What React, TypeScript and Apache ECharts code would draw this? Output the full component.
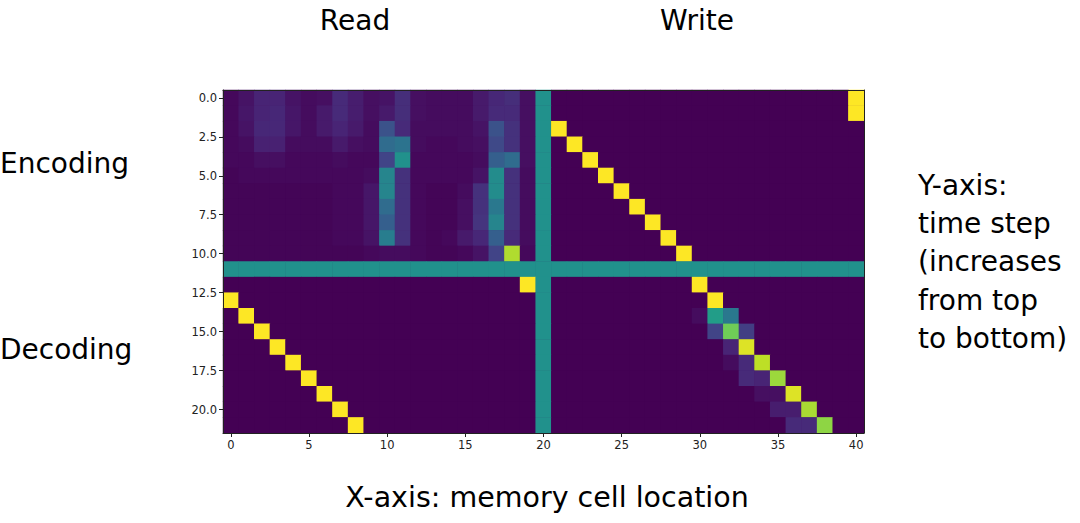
import React, { useEffect, useRef } from "react";
import * as echarts from "echarts";

// Column indices (memory cell location) and row indices (time step)
const xCategories: string[] = Array.from({ length: 41 }, (_, i) => String(i));
const yCategories: string[] = Array.from({ length: 22 }, (_, i) => String(i));

// Tick labels
const xTickValues = [0, 5, 10, 15, 20, 25, 30, 35, 40];
const yTickValues = [0, 2.5, 5, 7.5, 10, 12.5, 15, 17.5, 20];

// Read block: columns 0..19, rows 0..21
const readBlock: number[][] = [
  [0.02, 0.05, 0.10, 0.10, 0.05, 0.03, 0.04, 0.12, 0.08, 0.04, 0.05, 0.13, 0.04, 0.03, 0.03, 0.03, 0.07, 0.11, 0.13, 0.04],
  [0.02, 0.06, 0.10, 0.11, 0.06, 0.03, 0.07, 0.12, 0.08, 0.04, 0.07, 0.13, 0.04, 0.03, 0.03, 0.03, 0.07, 0.12, 0.12, 0.04],
  [0.02, 0.05, 0.11, 0.11, 0.06, 0.03, 0.07, 0.10, 0.07, 0.03, 0.25, 0.12, 0.03, 0.03, 0.03, 0.03, 0.05, 0.25, 0.14, 0.04],
  [0.02, 0.03, 0.09, 0.09, 0.03, 0.03, 0.03, 0.07, 0.04, 0.03, 0.35, 0.38, 0.03, 0.02, 0.02, 0.03, 0.04, 0.22, 0.14, 0.04],
  [0.02, 0.02, 0.04, 0.04, 0.02, 0.02, 0.02, 0.03, 0.02, 0.02, 0.20, 0.50, 0.02, 0.02, 0.02, 0.02, 0.03, 0.30, 0.35, 0.04],
  [0.01, 0.02, 0.02, 0.02, 0.02, 0.02, 0.02, 0.02, 0.02, 0.03, 0.45, 0.14, 0.02, 0.02, 0.02, 0.02, 0.05, 0.48, 0.14, 0.03],
  [0.01, 0.01, 0.01, 0.01, 0.01, 0.01, 0.01, 0.02, 0.02, 0.06, 0.45, 0.14, 0.02, 0.01, 0.01, 0.03, 0.14, 0.48, 0.14, 0.03],
  [0.01, 0.01, 0.01, 0.01, 0.01, 0.01, 0.01, 0.02, 0.02, 0.06, 0.35, 0.14, 0.02, 0.01, 0.01, 0.04, 0.14, 0.40, 0.14, 0.03],
  [0.01, 0.01, 0.01, 0.01, 0.01, 0.01, 0.01, 0.02, 0.02, 0.06, 0.30, 0.14, 0.02, 0.01, 0.01, 0.04, 0.15, 0.45, 0.14, 0.03],
  [0.01, 0.01, 0.01, 0.01, 0.01, 0.01, 0.01, 0.02, 0.02, 0.05, 0.42, 0.14, 0.02, 0.01, 0.02, 0.07, 0.11, 0.30, 0.12, 0.03],
  [0.01, 0.01, 0.01, 0.01, 0.01, 0.01, 0.01, 0.01, 0.01, 0.02, 0.03, 0.03, 0.02, 0.01, 0.01, 0.02, 0.05, 0.20, 0.88, 0.02],
  [0.5, 0.5, 0.5, 0.5, 0.5, 0.5, 0.5, 0.5, 0.5, 0.5, 0.5, 0.5, 0.5, 0.5, 0.5, 0.5, 0.5, 0.5, 0.5, 0.5],
  [0, 0, 0, 0, 0, 0, 0, 0, 0, 0, 0, 0, 0, 0, 0, 0, 0, 0, 0, 1],
  [1, 0, 0, 0, 0, 0, 0, 0, 0, 0, 0, 0, 0, 0, 0, 0, 0, 0, 0, 0],
  [0, 1, 0, 0, 0, 0, 0, 0, 0, 0, 0, 0, 0, 0, 0, 0, 0, 0, 0, 0],
  [0, 0, 1, 0, 0, 0, 0, 0, 0, 0, 0, 0, 0, 0, 0, 0, 0, 0, 0, 0],
  [0, 0, 0, 1, 0, 0, 0, 0, 0, 0, 0, 0, 0, 0, 0, 0, 0, 0, 0, 0],
  [0, 0, 0, 0, 1, 0, 0, 0, 0, 0, 0, 0, 0, 0, 0, 0, 0, 0, 0, 0],
  [0, 0, 0, 0, 0, 1, 0, 0, 0, 0, 0, 0, 0, 0, 0, 0, 0, 0, 0, 0],
  [0, 0, 0, 0, 0, 0, 1, 0, 0, 0, 0, 0, 0, 0, 0, 0, 0, 0, 0, 0],
  [0, 0, 0, 0, 0, 0, 0, 1, 0, 0, 0, 0, 0, 0, 0, 0, 0, 0, 0, 0],
  [0, 0, 0, 0, 0, 0, 0, 0, 1, 0, 0, 0, 0, 0, 0, 0, 0, 0, 0, 0],
];

// Separator column 20, rows 0..21
const separatorColumn: number[] = [
  0.5, 0.5, 0.5, 0.5, 0.5, 0.5, 0.5, 0.5, 0.5, 0.5, 0.5,
  0.5, 0.5, 0.5, 0.5, 0.5, 0.5, 0.5, 0.5, 0.5, 0.5, 0.5,
];

// Write block: columns 21..40, rows 0..21
const writeBlock: number[][] = [
  [0, 0, 0, 0, 0, 0, 0, 0, 0, 0, 0, 0, 0, 0, 0, 0, 0, 0, 0, 1],
  [0, 0, 0, 0, 0, 0, 0, 0, 0, 0, 0, 0, 0, 0, 0, 0, 0, 0, 0, 1],
  [1, 0, 0, 0, 0, 0, 0, 0, 0, 0, 0, 0, 0, 0, 0, 0, 0, 0, 0, 0],
  [0, 1, 0, 0, 0, 0, 0, 0, 0, 0, 0, 0, 0, 0, 0, 0, 0, 0, 0, 0],
  [0, 0, 1, 0, 0, 0, 0, 0, 0, 0, 0, 0, 0, 0, 0, 0, 0, 0, 0, 0],
  [0, 0, 0, 1, 0, 0, 0, 0, 0, 0, 0, 0, 0, 0, 0, 0, 0, 0, 0, 0],
  [0, 0, 0, 0, 1, 0, 0, 0, 0, 0, 0, 0, 0, 0, 0, 0, 0, 0, 0, 0],
  [0, 0, 0, 0, 0, 1, 0, 0, 0, 0, 0, 0, 0, 0, 0, 0, 0, 0, 0, 0],
  [0, 0, 0, 0, 0, 0, 1, 0, 0, 0, 0, 0, 0, 0, 0, 0, 0, 0, 0, 0],
  [0, 0, 0, 0, 0, 0, 0, 1, 0, 0, 0, 0, 0, 0, 0, 0, 0, 0, 0, 0],
  [0, 0, 0, 0, 0, 0, 0, 0, 1, 0, 0, 0, 0, 0, 0, 0, 0, 0, 0, 0],
  [0.5, 0.5, 0.5, 0.5, 0.5, 0.5, 0.5, 0.5, 0.5, 0.5, 0.5, 0.5, 0.5, 0.5, 0.5, 0.5, 0.5, 0.5, 0.5, 0.5],
  [0, 0, 0, 0, 0, 0, 0, 0, 0, 1, 0, 0, 0, 0, 0, 0, 0, 0, 0, 0],
  [0, 0, 0, 0, 0, 0, 0, 0, 0, 0, 1, 0, 0, 0, 0, 0, 0, 0, 0, 0],
  [0, 0, 0, 0, 0, 0, 0, 0, 0, 0.03, 0.55, 0.40, 0, 0, 0, 0, 0, 0, 0, 0],
  [0, 0, 0, 0, 0, 0, 0, 0, 0, 0, 0.20, 0.78, 0.18, 0, 0, 0, 0, 0, 0, 0],
  [0, 0, 0, 0, 0, 0, 0, 0, 0, 0, 0, 0.10, 0.95, 0, 0, 0, 0, 0, 0, 0],
  [0, 0, 0, 0, 0, 0, 0, 0, 0, 0, 0, 0.03, 0.12, 0.90, 0, 0, 0, 0, 0, 0],
  [0, 0, 0, 0, 0, 0, 0, 0, 0, 0, 0, 0, 0.12, 0.10, 0.85, 0, 0, 0, 0, 0],
  [0, 0, 0, 0, 0, 0, 0, 0, 0, 0, 0, 0, 0, 0.04, 0.04, 0.95, 0, 0, 0, 0],
  [0, 0, 0, 0, 0, 0, 0, 0, 0, 0, 0, 0, 0, 0, 0.08, 0.08, 0.87, 0, 0, 0],
  [0, 0, 0, 0, 0, 0, 0, 0, 0, 0, 0, 0, 0, 0, 0, 0.12, 0.12, 0.83, 0, 0],
];

const viridis = [
  "#440154", "#482475", "#414487", "#355f8d", "#2a788e", "#21918c",
  "#22a884", "#44bf70", "#7ad151", "#bddf26", "#fde725",
];

const FONT = "'DejaVu Sans', Verdana, sans-serif";

export default function App() {
  const ref = useRef<HTMLDivElement>(null);

  useEffect(() => {
    if (!ref.current) return;
    const chart = echarts.init(ref.current, undefined, { renderer: "svg" });

    const data: [number, number, number][] = [];
    for (let r = 0; r < yCategories.length; r++) {
      const row = [...readBlock[r], separatorColumn[r], ...writeBlock[r]];
      for (let c = 0; c < row.length; c++) data.push([c, r, row[c]]);
    }

    chart.setOption({
      animation: false,
      backgroundColor: "#ffffff",
      grid: {
        left: 223,
        top: 90,
        width: 641,
        height: 343,
        containLabel: false,
        show: true,
        backgroundColor: "#440154",
        borderWidth: 0,
      },
      visualMap: {
        type: "continuous",
        min: 0,
        max: 1,
        show: false,
        seriesIndex: 0,
        inRange: { color: viridis },
      },
      xAxis: [
        {
          type: "category",
          data: xCategories,
          position: "top",
          axisLine: { show: true, onZero: false, lineStyle: { color: "#222", width: 1 } },
          axisTick: { show: false },
          axisLabel: { show: false },
          splitLine: { show: false },
          z: 10,
        },
        {
          type: "value",
          min: -0.5,
          max: 40.5,
          position: "bottom",
          axisLine: { show: true, onZero: false, lineStyle: { color: "#222", width: 1 } },
          axisTick: { show: true, length: 4, customValues: xTickValues, lineStyle: { color: "#222" } },
          axisLabel: {
            customValues: xTickValues,
            fontSize: 11.5,
            fontFamily: FONT,
            color: "#222",
            margin: 6,
          },
          splitLine: { show: false },
          z: 10,
        },
      ],
      yAxis: [
        {
          type: "category",
          data: yCategories,
          inverse: true,
          position: "right",
          axisLine: { show: true, onZero: false, lineStyle: { color: "#222", width: 1 } },
          axisTick: { show: false },
          axisLabel: { show: false },
          splitLine: { show: false },
          z: 10,
        },
        {
          type: "value",
          min: -0.5,
          max: 21.5,
          inverse: true,
          position: "left",
          axisLine: { show: true, onZero: false, lineStyle: { color: "#222", width: 1 } },
          axisTick: { show: true, length: 4, customValues: yTickValues, lineStyle: { color: "#222" } },
          axisLabel: {
            customValues: yTickValues,
            fontSize: 11.5,
            fontFamily: FONT,
            color: "#222",
            margin: 6,
            formatter: (v: number) => v.toFixed(1),
          },
          splitLine: { show: false },
          z: 10,
        },
      ],
      series: [
        {
          type: "heatmap",
          xAxisIndex: 0,
          yAxisIndex: 0,
          data,
          itemStyle: { borderWidth: 0 },
          emphasis: { disabled: true },
        },
      ],
      graphic: [
        {
          type: "text",
          x: 355,
          y: 20,
          style: { text: "Read", fontSize: 28, fontFamily: FONT, fill: "#000", textAlign: "center", textVerticalAlign: "middle" },
        },
        {
          type: "text",
          x: 697,
          y: 20,
          style: { text: "Write", fontSize: 28, fontFamily: FONT, fill: "#000", textAlign: "center", textVerticalAlign: "middle" },
        },
        {
          type: "text",
          x: 0,
          y: 163,
          style: { text: "Encoding", fontSize: 28, fontFamily: FONT, fill: "#000", textAlign: "left", textVerticalAlign: "middle" },
        },
        {
          type: "text",
          x: 0,
          y: 349,
          style: { text: "Decoding", fontSize: 28, fontFamily: FONT, fill: "#000", textAlign: "left", textVerticalAlign: "middle" },
        },
        {
          type: "text",
          x: 918,
          y: 166,
          style: {
            text: "Y-axis:\ntime step\n(increases\nfrom top\nto bottom)",
            fontSize: 28,
            lineHeight: 38.3,
            fontFamily: FONT,
            fill: "#000",
            textAlign: "left",
            textVerticalAlign: "top",
          },
        },
        {
          type: "text",
          x: 547,
          y: 497,
          style: {
            text: "X-axis: memory cell location",
            fontSize: 28.5,
            fontFamily: FONT,
            fill: "#000",
            textAlign: "center",
            textVerticalAlign: "middle",
          },
        },
      ],
    });

    return () => chart.dispose();
  }, []);

  return (
    <div
      ref={ref}
      style={{ position: "fixed", left: 0, top: 0, width: 1080, height: 523, background: "#fff" }}
    />
  );
}
